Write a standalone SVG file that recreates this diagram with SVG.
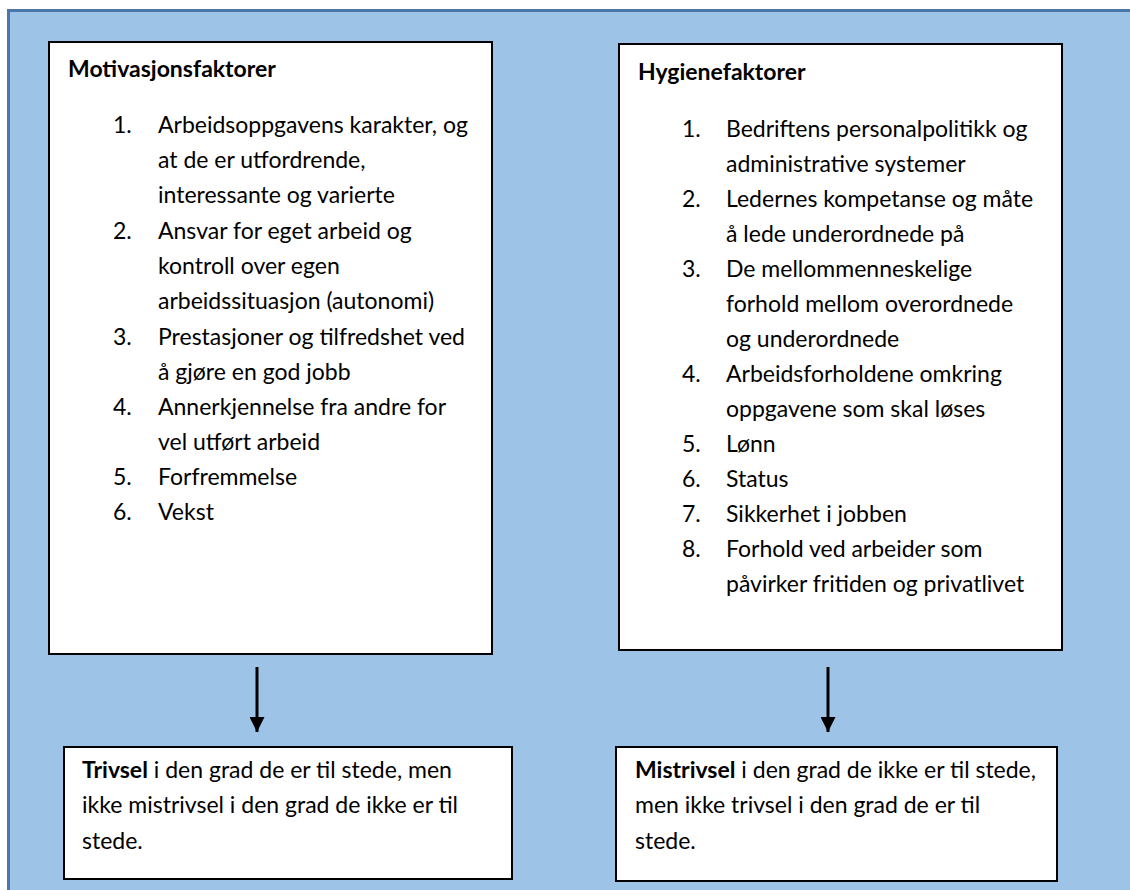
<svg xmlns="http://www.w3.org/2000/svg" width="1130" height="890" viewBox="0 0 1130 890">
<style>
text{font-family:Lato,"Liberation Sans",sans-serif;font-size:23px;fill:#000}
.b{font-weight:bold}
.box{fill:#fff;stroke:#000;stroke-width:2}
.conn{stroke:#000;stroke-width:3;fill:none}
.edge{stroke:#4a76a8;stroke-width:3;fill:none}
</style>
<defs>
<marker id="ah" viewBox="0 0 10 10" refX="10" refY="5" markerWidth="5" markerHeight="5" markerUnits="strokeWidth" orient="auto">
<path d="M0,0 L10,5 L0,10 Z" fill="#000"/>
</marker>
</defs>
<rect x="0" y="0" width="1130" height="890" fill="#fff"/>
<g id="panel">
<rect x="8.5" y="10.5" width="1121.5" height="879.5" fill="#9dc3e6"/>
<path class="edge" d="M8.5,890 L8.5,10.5 L1130,10.5"/>
</g>
<g id="motivasjon">
<rect class="box" x="49" y="42" width="443" height="612"/>
<text class="b" x="68" y="77">Motivasjonsfaktorer</text>
<text x="113" y="133">1.</text><text x="158" y="133">Arbeidsoppgavens karakter, og</text>
<text x="158" y="168">at de er utfordrende,</text>
<text x="158" y="203">interessante og varierte</text>
<text x="113" y="239">2.</text><text x="158" y="239">Ansvar for eget arbeid og</text>
<text x="158" y="274">kontroll over egen</text>
<text x="158" y="309">arbeidssituasjon (autonomi)</text>
<text x="113" y="345">3.</text><text x="158" y="345">Prestasjoner og tilfredshet ved</text>
<text x="158" y="380">å gjøre en god jobb</text>
<text x="113" y="415">4.</text><text x="158" y="415">Annerkjennelse fra andre for</text>
<text x="158" y="450">vel utført arbeid</text>
<text x="113" y="485">5.</text><text x="158" y="485">Forfremmelse</text>
<text x="113" y="520">6.</text><text x="158" y="520">Vekst</text>
</g>
<g id="hygiene">
<rect class="box" x="619" y="44" width="443" height="606"/>
<text class="b" x="638" y="80">Hygienefaktorer</text>
<text x="682" y="137">1.</text><text x="726" y="137">Bedriftens personalpolitikk og</text>
<text x="726" y="172">administrative systemer</text>
<text x="682" y="207">2.</text><text x="726" y="207">Ledernes kompetanse og måte</text>
<text x="726" y="242">å lede underordnede på</text>
<text x="682" y="277">3.</text><text x="726" y="277">De mellommenneskelige</text>
<text x="726" y="312">forhold mellom overordnede</text>
<text x="726" y="347">og underordnede</text>
<text x="682" y="382">4.</text><text x="726" y="382">Arbeidsforholdene omkring</text>
<text x="726" y="417">oppgavene som skal løses</text>
<text x="682" y="452">5.</text><text x="726" y="452">Lønn</text>
<text x="682" y="487">6.</text><text x="726" y="487">Status</text>
<text x="682" y="522">7.</text><text x="726" y="522">Sikkerhet i jobben</text>
<text x="682" y="557">8.</text><text x="726" y="557">Forhold ved arbeider som</text>
<text x="726" y="592">påvirker fritiden og privatlivet</text>
</g>
<g id="trivsel">
<rect class="box" x="64" y="747" width="448" height="132"/>
<text x="82" y="778"><tspan class="b">Trivsel</tspan> i den grad de er til stede, men</text>
<text x="82" y="813">ikke mistrivsel i den grad de ikke er til</text>
<text x="82" y="849">stede.</text>
</g>
<g id="mistrivsel">
<rect class="box" x="616" y="747" width="441" height="134"/>
<text x="635" y="778"><tspan class="b">Mistrivsel</tspan> i den grad de ikke er til stede,</text>
<text x="635" y="813">men ikke trivsel i den grad de er til</text>
<text x="635" y="849">stede.</text>
</g>
<g id="connectors">
<line class="conn" x1="257" y1="667" x2="257" y2="732" marker-end="url(#ah)"/>
<line class="conn" x1="828" y1="667" x2="828" y2="732" marker-end="url(#ah)"/>
</g>
</svg>
